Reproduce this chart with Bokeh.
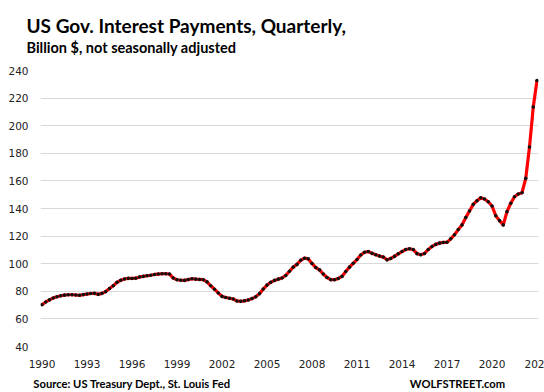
from bokeh.plotting import figure
from bokeh.models import FixedTicker, Title, LinearAxis
from bokeh.embed import file_html
from bokeh.resources import INLINE

title_text = "US Gov. Interest Payments, Quarterly,"
subtitle_text = "Billion $, not seasonally adjusted"
source_text = "Source: US Treasury Dept., St. Louis Fed"
brand_text = "WOLFSTREET.com"

first_year = 1990
# quarterly values, billion $, 1990 Q1 .. 2023 Q1
interest = [
    70.3, 72.3, 73.8, 75.1,      # 1990
    76.0, 76.8, 77.2, 77.5,      # 1991
    77.5, 77.3, 77.1, 77.6,      # 1992
    78.0, 78.4, 78.5, 77.8,      # 1993
    78.5, 79.8, 82.0, 84.0,      # 1994
    86.5, 88.0, 88.9, 89.4,      # 1995
    89.3, 89.5, 90.4, 90.8,      # 1996
    91.3, 91.6, 92.2, 92.5,      # 1997
    92.7, 92.7, 92.5, 89.6,      # 1998
    88.4, 88.0, 87.9, 88.5,      # 1999
    89.1, 88.8, 88.6, 88.4,      # 2000
    86.8, 84.0, 81.5, 78.8,      # 2001
    76.3, 75.5, 75.0, 74.4,      # 2002
    73.0, 72.7, 73.1, 73.7,      # 2003
    74.7, 76.0, 78.3, 81.6,      # 2004
    84.5, 86.5, 87.9, 88.8,      # 2005
    89.6, 91.5, 94.5, 97.5,      # 2006
    99.5, 102.5, 104.0, 103.5,   # 2007
    100.2, 97.2, 95.5, 92.5,     # 2008
    90.0, 88.4, 88.4, 89.3,      # 2009
    90.8, 94.3, 97.5, 100.3,     # 2010
    103.0, 106.3, 108.3, 108.8,  # 2011
    107.5, 106.5, 105.5, 104.8,  # 2012
    102.8, 103.8, 105.3, 107.2,  # 2013
    108.8, 110.3, 110.8, 110.2,  # 2014
    107.3, 106.5, 107.4, 110.3,  # 2015
    112.5, 114.0, 114.9, 115.4,  # 2016
    115.5, 118.0, 121.0, 124.7,  # 2017
    128.1, 133.4, 138.2, 143.0,  # 2018
    145.6, 147.8, 146.9, 144.9,  # 2019
    141.8, 134.8, 131.2, 128.1,  # 2020
    137.7, 143.8, 148.5, 150.5,  # 2021
    151.4, 161.8, 184.6, 213.5,  # 2022
    232.8,                       # 2023
]
quarter_time = [first_year + i / 4 for i in range(len(interest))]

x_tick_years = [1990, 1993, 1996, 1999, 2002, 2005, 2008, 2011, 2014, 2017, 2020, 2023]
x_tick_labels = ["1990", "1993", "1996", "1999", "2002", "2005", "2008", "2011",
                 "2014", "2017", "2020", "202"]
y_ticks = [40, 60, 80, 100, 120, 140, 160, 180, 200, 220, 240]
y_tick_labels = [str(v) for v in y_ticks]

# footer line anchor positions (in x-axis units) for the two footer texts
footer_pos = [1996.0, 2017.7]

p = figure(width=544, height=392, x_range=(1989.9, 2023.1), y_range=(40, 240),
           output_backend="svg", toolbar_location=None, title=None,
           min_border_left=40, min_border_right=6, min_border_top=70, min_border_bottom=45)
p.outline_line_color = None
p.background_fill_color = "white"
p.border_fill_color = "white"

p.xgrid.grid_line_color = None
p.ygrid.grid_line_color = "#d9d9d9"
p.ygrid.grid_line_width = 1

for ax in (p.xaxis[0], p.yaxis[0]):
    ax.axis_line_color = None
    ax.major_tick_line_color = None
    ax.minor_tick_line_color = None
    ax.major_tick_out = 0
    ax.major_tick_in = 0
    ax.major_label_text_font = "DejaVu Sans"
    ax.major_label_text_font_size = "10.5px"
    ax.major_label_text_color = "#222222"

p.xaxis.ticker = FixedTicker(ticks=x_tick_years)
p.xaxis.major_label_overrides = dict(zip(x_tick_years, x_tick_labels))
p.xaxis.major_label_standoff = 13
p.yaxis.ticker = FixedTicker(ticks=y_ticks)
p.yaxis.major_label_overrides = dict(zip(y_ticks, y_tick_labels))
p.yaxis.major_label_standoff = 12

footer = LinearAxis(ticker=FixedTicker(ticks=footer_pos),
                    major_label_overrides={footer_pos[0]: source_text, footer_pos[1]: brand_text})
footer.axis_line_color = None
footer.major_tick_line_color = None
footer.minor_tick_line_color = None
footer.major_tick_out = 0
footer.major_tick_in = 0
footer.major_label_standoff = 6
footer.major_label_text_font = "Lato"
footer.major_label_text_font_style = "bold"
footer.major_label_text_font_size = "11.2px"
footer.major_label_text_color = "#000000"
p.add_layout(footer, "below")

sub_kw = dict(text=subtitle_text, align="left", offset=-14,
              text_font="Lato", text_font_style="bold", text_font_size="14.5px",
              text_color="#000000")
if "padding" in Title.properties():
    sub_kw.update(standoff=0, padding=(0, 0, 0, 15))
else:
    sub_kw.update(standoff=20)
p.add_layout(Title(**sub_kw), "above")
p.add_layout(Title(text=title_text, align="left", offset=-14, standoff=0,
                   text_font="Lato", text_font_style="bold", text_font_size="19px",
                   text_color="#000000"), "above")

p.line(quarter_time, interest, line_color="#ff0000", line_width=3.2, line_join="round")
p.scatter(quarter_time, interest, marker="circle", size=3.6, fill_color="#111111",
          line_color=None)

open("out.html", "w").write(file_html(p, INLINE))
